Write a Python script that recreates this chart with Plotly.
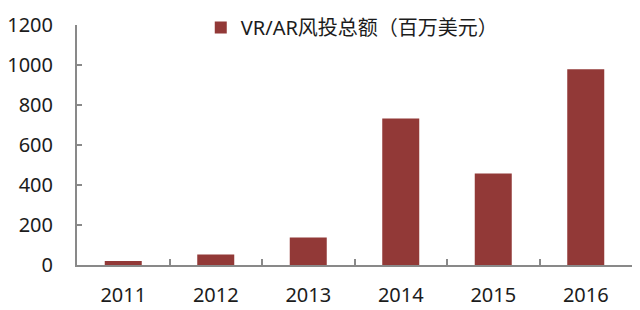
import plotly.graph_objects as go

years = ["2011", "2012", "2013", "2014", "2015", "2016"]
values = [20, 53, 137, 733, 458, 979]
series_name = "VR/AR风投总额（百万美元）"
y_ticks = [0, 200, 400, 600, 800, 1000, 1200]

FONT = "Noto Sans, Noto Sans CJK SC, sans-serif"
AXIS = "#898989"

fig = go.Figure()
fig.add_trace(go.Bar(
    x=years, y=values, name=series_name,
    marker=dict(color="#923937", line=dict(width=0)),
    width=0.4, showlegend=True,
))

fig.update_layout(
    width=640, height=310,
    margin=dict(l=77, r=8, t=18, b=45),
    paper_bgcolor="white", plot_bgcolor="white",
    font=dict(family=FONT, size=20, color="#1c1c1c"),
    showlegend=True,
    legend=dict(
        x=0.223, y=0.99, xanchor="left", yanchor="middle",
        orientation="h", bgcolor="rgba(0,0,0,0)",
        font=dict(family=FONT, size=20, color="#1c1c1c"),
        itemwidth=30,
    ),
    bargap=0.6,
)
fig.update_xaxes(
    type="category", range=[-0.5, 5.5], automargin=False,
    showline=True, linecolor=AXIS, linewidth=2,
    ticks="inside", tickson="boundaries", ticklen=6, tickwidth=2, tickcolor=AXIS,
    showgrid=False, zeroline=False,
    ticklabelstandoff=11,
    tickfont=dict(size=20),
)
fig.update_yaxes(
    range=[0, 1200], tickvals=y_ticks, automargin=False,
    showline=True, linecolor=AXIS, linewidth=2,
    ticks="inside", ticklen=5, tickwidth=2, tickcolor=AXIS,
    showgrid=False, zeroline=False,
    ticklabelstandoff=18,
    tickfont=dict(size=20),
)

fig.write_html("out.html")
